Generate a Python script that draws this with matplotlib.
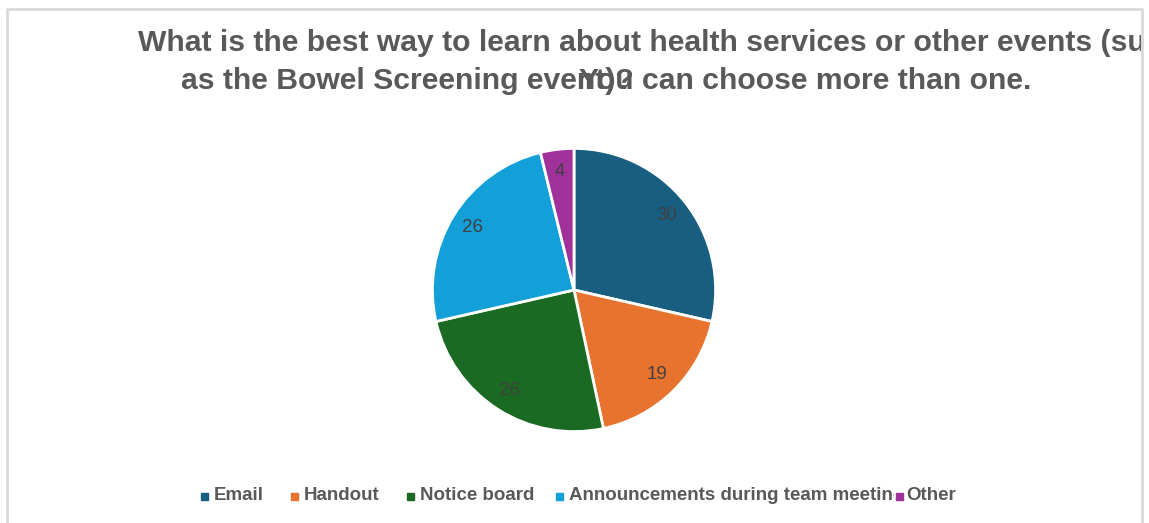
import matplotlib.pyplot as plt
from matplotlib.patches import Rectangle

# Survey answers
categories = ["Email", "Handout", "Notice board",
              "Announcements during team meetings", "Other"]
counts = [30, 19, 26, 26, 4]
colors = ["#175e80", "#e8732f", "#1b6a23", "#13a0d8", "#a0309a"]

title_1 = "What is the best way to learn about health services or other events (such"
title_2a = "as the Bowel Screening event)?"
title_2b = "You can choose more than one."

W, H = 1149, 523
plt.rcParams['font.family'] = ['Liberation Sans', 'DejaVu Sans']
fig = plt.figure(figsize=(W / 100, H / 100), dpi=100)

# overlay in pixel coordinates for frame, title and legend
bg = fig.add_axes([0, 0, 1, 1])
bg.set_xlim(0, W)
bg.set_ylim(H, 0)
bg.axis("off")

grey = "#595959"
bg.plot([7, 7, 1142, 1142], [H, 9, 9, H], color="#d9d9d9", lw=2)

clip = Rectangle((7, 9), 1134, H, transform=bg.transData, visible=False)
bg.add_patch(clip)
t = bg.text(138, 43, title_1, fontsize=21.7, fontweight="bold", color=grey,
            va="center", ha="left", clip_on=True)
t.set_clip_path(clip)
bg.text(181, 81, title_2a, fontsize=21.7, fontweight="bold", color=grey,
        va="center", ha="left")
bg.text(579, 81, title_2b, fontsize=21.7, fontweight="bold", color=grey,
        va="center", ha="left")

# pie
cx, cy, r = 574, 290, 143
ax = fig.add_axes([(cx - r) / W, (H - cy - r) / H, 2 * r / W, 2 * r / H])
wedges, texts, autotexts = ax.pie(
    counts, colors=colors, startangle=90, counterclock=False,
    autopct=lambda p: "%d" % round(p * sum(counts) / 100),
    pctdistance=0.84,
    wedgeprops=dict(edgecolor="white", linewidth=2),
    textprops=dict(color="#404040", fontsize=13.5))
ax.set_xlim(-1.01, 1.01)
ax.set_ylim(-1.01, 1.01)

# legend drawn by hand so the long entry runs under the next one
leg_x = [204, 294, 410, 559, 899]
leg_y = 496
leg_clip = Rectangle((0, 0), 894, H, transform=bg.transData, visible=False)
bg.add_patch(leg_clip)
for name, c, x in zip(categories, colors, leg_x):
    bg.add_patch(Rectangle((x - 3.5, leg_y - 3.5), 7, 7, color=c, zorder=3))
    lt = bg.text(x + 10 if name != "Other" else x + 7, leg_y, name,
                 fontsize=13.5, fontweight="bold",
                 color=grey, va="center", ha="left")
    if name.startswith("Announcements"):
        lt.set_clip_on(True)
        lt.set_clip_path(leg_clip)

fig.savefig("out.png", dpi=100)
